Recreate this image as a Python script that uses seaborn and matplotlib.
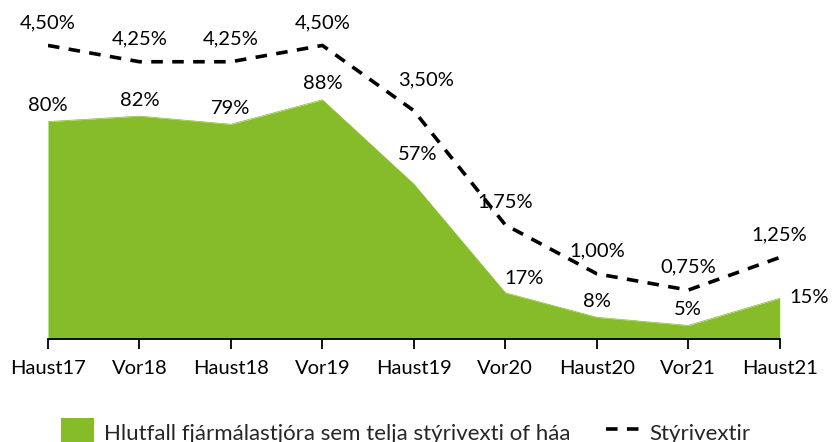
import numpy as np
import pandas as pd
import matplotlib
matplotlib.use("Agg")
import matplotlib.pyplot as plt
import seaborn as sns
from matplotlib.patches import Patch
from matplotlib.lines import Line2D

# -----------------------------
# Data
# -----------------------------
periods = ["Haust17", "Vor18", "Haust18", "Vor19", "Haust19",
           "Vor20", "Haust20", "Vor21", "Haust21"]
share_too_high = [80, 82, 79, 88, 57, 17, 8, 5, 15]
policy_rate = [4.50, 4.25, 4.25, 4.50, 3.50, 1.75, 1.00, 0.75, 1.25]

area_label = "Hlutfall fjármálastjóra sem telja stýrivexti of háa"
line_label = "Stýrivextir"

# label nudges (points) - a few labels were hand placed in the original
share_offsets = [(0, 11.5)] * 9
share_offsets[4] = (3, 21.5)
share_offsets[5] = (13.5, 10)
share_offsets[8] = (21.5, 0.5)
rate_offsets = [(0, 16.5)] * 9
rate_offsets[4] = (8.5, 22)

df = pd.DataFrame({"period": periods, "share": share_too_high, "rate": policy_rate})
df["x"] = np.arange(len(df))

green = "#86BC29"

sns.set_theme(style="white")
plt.rcParams["font.family"] = ["Lato", "DejaVu Sans"]

fig = plt.figure(figsize=(8.33, 4.42), dpi=100)
ax = fig.add_axes([0.0576, 0.233, 0.8784, 0.738])

# -----------------------------
# Green area (left axis)
# -----------------------------
ax.fill_between(df["x"], 0, df["share"], color=green, linewidth=0)
sns.lineplot(data=df, x="x", y="share", ax=ax, color=green, linewidth=0.5)
ax.set_ylim(0, 120)
ax.set_xlim(0, len(df) - 1)

for i, v in enumerate(share_too_high):
    ax.annotate(f"{v}%", (i, v), xytext=share_offsets[i], textcoords="offset points",
                ha="center", va="center", fontsize=14.5, color="black",
                annotation_clip=False)

# -----------------------------
# Dashed line (right axis)
# -----------------------------
ax2 = ax.twinx()
sns.lineplot(data=df, x="x", y="rate", ax=ax2, color="black", linewidth=2.6)
ax2.lines[0].set_dashes((3.2, 2.6))
ax2.set_ylim(0, 5)

for i, v in enumerate(policy_rate):
    txt = f"{v:.2f}%".replace(".", ",")
    ax2.annotate(txt, (i, v), xytext=rate_offsets[i], textcoords="offset points",
                 ha="center", va="center", fontsize=14.5, color="black",
                 annotation_clip=False)

# -----------------------------
# Axes styling
# -----------------------------
for a in (ax, ax2):
    for s in ["top", "right", "left"]:
        a.spines[s].set_visible(False)
    a.set_ylabel("")
    a.set_yticks([])
ax2.spines["bottom"].set_visible(False)
ax.spines["bottom"].set_color("black")
ax.spines["bottom"].set_linewidth(1.3)
ax.set_xlabel("")
ax.set_xticks(df["x"])
ax.set_xticklabels(periods, fontsize=14.5, color="black")
ax.tick_params(axis="x", direction="out", length=7, width=1.3,
               color="black", pad=8, bottom=True)
ax2.set_xlim(0, len(df) - 1)

# -----------------------------
# Legend
# -----------------------------
handles = [Patch(facecolor=green, edgecolor="none", label=area_label),
           Line2D([0], [0], color="black", linewidth=2.6, dashes=(3.2, 2.6), label=line_label)]
fig.legend(handles=handles, loc="center", bbox_to_anchor=(0.487, 0.022), ncol=2,
           frameon=False, fontsize=16, handlelength=1.5, handleheight=1.55,
           columnspacing=1.6, handletextpad=0.45, borderpad=0)

fig.savefig("out.png", dpi=100)
